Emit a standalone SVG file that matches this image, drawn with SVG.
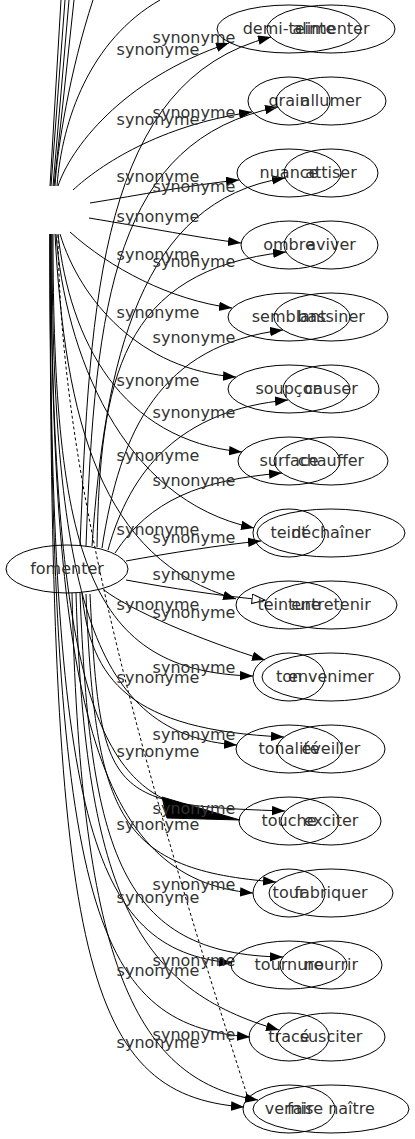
<svg xmlns="http://www.w3.org/2000/svg" width="415" height="1139" viewBox="0 0 415 1139">
<style>
ellipse{fill:none;stroke:#000;stroke-width:1}
text{font-family:"DejaVu Sans","Liberation Sans",sans-serif;font-size:16px;fill:#333;text-anchor:middle}
.e path{fill:none;stroke:#000;stroke-width:1}
.e path.a{marker-end:url(#ah)}
.d{stroke-dasharray:3,2.5}
</style>
<defs>
<marker id="ah" markerUnits="userSpaceOnUse" markerWidth="14" markerHeight="10" refX="13" refY="4.7" orient="auto"><path d="M0,0 L13,4.7 L0,9.4 z" fill="#000"/></marker>
<marker id="ho" markerUnits="userSpaceOnUse" markerWidth="15" markerHeight="11" refX="13.5" refY="5.2" orient="auto"><path d="M0.5,0.5 L13.5,5.2 L0.5,9.9 z" fill="#fff" stroke="#000"/></marker>
</defs>
<rect width="415" height="1139" fill="#fff"/>
<g id="edges" class="e">
<path d="M50,186 L61,0"/>
<path d="M51,186 L65,0"/>
<path d="M53,186 L69,0"/>
<path d="M54,186 L74,0"/>
<path d="M55,186 C57,150 70,70 93,0"/>
<path d="M57,186 C62,120 90,40 160,0"/>
<path class="a" d="M58,186 C70,150 120,80 229,43"/>
<path class="a" d="M73,190 C100,165 160,125 252,112"/>
<path class="a" d="M90,203 C140,195 190,185 239,180"/>
<path class="a" d="M89,218 C150,228 200,238 241,243"/>
<path class="a" d="M70,232 C110,268 170,300 232,308"/>
<path class="a" d="M60,234 C80,300 140,370 236,377"/>
<path class="a" d="M58,234 C70,340 120,440 242,452"/>
<path class="a" d="M56,234 C65,350 120,500 254,528"/>
<path class="a" d="M55,234 C65,420 100,560 236,599"/>
<path class="a" d="M53,234 C53,560 90,672 253,676"/>
<path class="a" d="M52,234 C52,600 95,735 237,745"/>
<path d="M51,234 C51,640 90,760 162,798"/>
<polygon points="162,797 240,820 167,818" fill="#000" stroke="#000"/>
<path class="a" d="M51,234 C51,700 95,880 253,893"/>
<path class="a" d="M50,234 C50,820 90,950 232,963"/>
<path class="a" d="M50,234 C50,900 90,1025 250,1037"/>
<path class="a" d="M50,234 C50,950 80,1095 244,1107"/>
<path class="a" d="M80,546 C90,300 100,80 271,37"/>
<path class="a" d="M86,546 C95,300 115,140 278,107"/>
<path class="a" d="M92,546 C105,360 140,200 285,178"/>
<path class="a" d="M97,547 C100,380 120,270 286,252"/>
<path class="a" d="M102,548 C120,430 160,345 283,330"/>
<path class="a" d="M108,550 C130,470 180,410 288,400"/>
<path class="a" d="M115,553 C150,500 200,480 282,473"/>
<path class="a" d="M126,561 C170,553 220,545 261,541"/>
<path d="M126,580 C170,588 220,596 265,600" marker-end="url(#ho)"/>
<path class="a" d="M104,590 C130,610 200,640 265,660"/>
<path class="a" d="M82,593 C90,680 130,730 284,737"/>
<path class="a" d="M90,594 C100,800 110,805 285,811"/>
<path class="a" d="M86,594 C95,820 120,870 276,882"/>
<path class="a" d="M80,593 C90,850 120,955 283,957"/>
<path class="a" d="M76,593 C85,900 140,990 279,1030"/>
<path class="a" d="M72,593 C80,950 130,1080 258,1100"/>
<path class="d" d="M58,235 C60,450 120,700 248,1098" stroke-width="0.8"/>
</g>
<g id="labels">
<text x="158" y="55">synonyme</text>
<text x="158" y="125">synonyme</text>
<text x="158" y="182">synonyme</text>
<text x="158" y="222">synonyme</text>
<text x="158" y="260">synonyme</text>
<text x="158" y="318">synonyme</text>
<text x="158" y="386">synonyme</text>
<text x="158" y="461">synonyme</text>
<text x="158" y="535">synonyme</text>
<text x="158" y="610">synonyme</text>
<text x="158" y="683">synonyme</text>
<text x="158" y="757">synonyme</text>
<text x="158" y="830">synonyme</text>
<text x="158" y="903">synonyme</text>
<text x="158" y="976">synonyme</text>
<text x="158" y="1048">synonyme</text>
<text x="194" y="43">synonyme</text>
<text x="194" y="118">synonyme</text>
<text x="194" y="192">synonyme</text>
<text x="194" y="267">synonyme</text>
<text x="194" y="343">synonyme</text>
<text x="194" y="418">synonyme</text>
<text x="194" y="486">synonyme</text>
<text x="194" y="543">synonyme</text>
<text x="194" y="580">synonyme</text>
<text x="194" y="618">synonyme</text>
<text x="194" y="673">synonyme</text>
<text x="194" y="740">synonyme</text>
<text x="194" y="814">synonyme</text>
<text x="194" y="890">synonyme</text>
<text x="194" y="966">synonyme</text>
<text x="194" y="1040">synonyme</text>
</g>
<g id="fomenter"><ellipse cx="67" cy="569" rx="61" ry="24"/><text x="67" y="574">fomenter</text></g>
<g id="demi-teinte"><ellipse cx="289" cy="29" rx="72" ry="24"/><text x="289" y="34">demi-teinte</text></g>
<g id="grain"><ellipse cx="289" cy="101" rx="41" ry="24"/><text x="289" y="106">grain</text></g>
<g id="nuance"><ellipse cx="289" cy="173" rx="52" ry="24"/><text x="289" y="178">nuance</text></g>
<g id="ombre"><ellipse cx="289" cy="245" rx="48" ry="24"/><text x="289" y="250">ombre</text></g>
<g id="semblant"><ellipse cx="289" cy="317" rx="61" ry="24"/><text x="289" y="322">semblant</text></g>
<g id="soupcon"><ellipse cx="289" cy="389" rx="61" ry="24"/><text x="289" y="394">soupçon</text></g>
<g id="surface"><ellipse cx="289" cy="461" rx="51" ry="24"/><text x="289" y="466">surface</text></g>
<g id="teint"><ellipse cx="289" cy="533" rx="36" ry="24"/><text x="289" y="538">teint</text></g>
<g id="teinture"><ellipse cx="289" cy="605" rx="53" ry="24"/><text x="289" y="610">teinture</text></g>
<g id="ton"><ellipse cx="289" cy="677" rx="36" ry="24"/><text x="289" y="682">ton</text></g>
<g id="tonalite"><ellipse cx="289" cy="749" rx="53" ry="24"/><text x="289" y="754">tonalité</text></g>
<g id="touche"><ellipse cx="289" cy="821" rx="50" ry="24"/><text x="289" y="826">touche</text></g>
<g id="tour"><ellipse cx="289" cy="893" rx="36" ry="24"/><text x="289" y="898">tour</text></g>
<g id="tournure"><ellipse cx="289" cy="965" rx="58" ry="24"/><text x="289" y="970">tournure</text></g>
<g id="trace"><ellipse cx="289" cy="1037" rx="40" ry="24"/><text x="289" y="1042">tracé</text></g>
<g id="vernis"><ellipse cx="289" cy="1109" rx="46" ry="24"/><text x="289" y="1114">vernis</text></g>
<g id="alimenter"><ellipse cx="331" cy="29" rx="64" ry="24"/><text x="331" y="34">alimenter</text></g>
<g id="allumer"><ellipse cx="331" cy="101" rx="55" ry="24"/><text x="331" y="106">allumer</text></g>
<g id="attiser"><ellipse cx="331" cy="173" rx="47" ry="24"/><text x="331" y="178">attiser</text></g>
<g id="aviver"><ellipse cx="331" cy="245" rx="47" ry="24"/><text x="331" y="250">aviver</text></g>
<g id="bassiner"><ellipse cx="331" cy="317" rx="57" ry="24"/><text x="331" y="322">bassiner</text></g>
<g id="causer"><ellipse cx="331" cy="389" rx="48" ry="24"/><text x="331" y="394">causer</text></g>
<g id="chauffer"><ellipse cx="331" cy="461" rx="57" ry="24"/><text x="331" y="466">chauffer</text></g>
<g id="dechainer"><ellipse cx="331" cy="533" rx="74" ry="24"/><text x="331" y="538">déchaîner</text></g>
<g id="entretenir"><ellipse cx="331" cy="605" rx="66" ry="24"/><text x="331" y="610">entretenir</text></g>
<g id="envenimer"><ellipse cx="331" cy="677" rx="69" ry="24"/><text x="331" y="682">envenimer</text></g>
<g id="eveiller"><ellipse cx="331" cy="749" rx="54" ry="24"/><text x="331" y="754">éveiller</text></g>
<g id="exciter"><ellipse cx="331" cy="821" rx="50" ry="24"/><text x="331" y="826">exciter</text></g>
<g id="fabriquer"><ellipse cx="331" cy="893" rx="62" ry="24"/><text x="331" y="898">fabriquer</text></g>
<g id="nourrir"><ellipse cx="331" cy="965" rx="51" ry="24"/><text x="331" y="970">nourrir</text></g>
<g id="susciter"><ellipse cx="331" cy="1037" rx="54" ry="24"/><text x="331" y="1042">susciter</text></g>
<g id="faire-naitre"><ellipse cx="331" cy="1109" rx="78" ry="24"/><text x="331" y="1114">faire naître</text></g>
</svg>
